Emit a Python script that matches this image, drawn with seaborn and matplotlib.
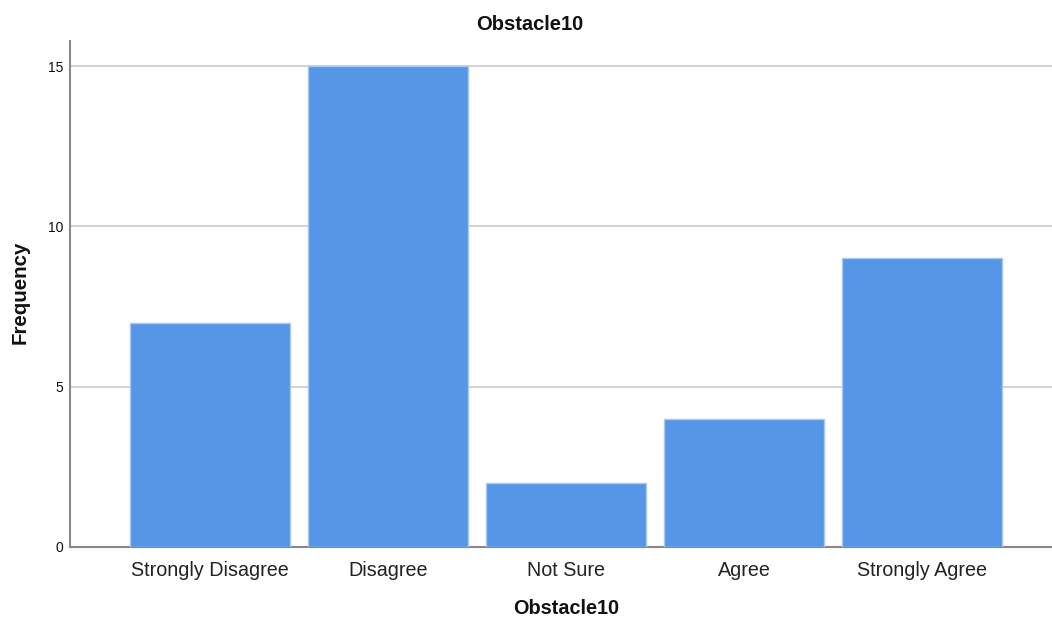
import matplotlib
matplotlib.use("Agg")
import matplotlib.pyplot as plt
import seaborn as sns
import pandas as pd

categories = ["Strongly Disagree", "Disagree", "Not Sure", "Agree", "Strongly Agree"]
frequency = [7, 15, 2, 4, 9]
yticks = [0, 5, 10, 15]

sns.set_style("white")
plt.rcParams['font.family'] = ['Liberation Sans', 'DejaVu Sans']

df = pd.DataFrame({"cat": categories, "freq": frequency})

W, H = 1052, 619
fig = plt.figure(figsize=(W / 100, H / 100), dpi=100)
ax = fig.add_axes([70 / W, (H - 547) / H, (W - 70) / W, (547 - 41) / H])

sns.barplot(data=df, x="cat", y="freq", order=categories, color="#5596E6",
            saturation=1, width=0.9, edgecolor="#A8C8F2", linewidth=1, ax=ax, zorder=3)

ax.set_ylim(0, 15.78)
ax.set_xlim(-0.787, 4.73)
ax.set_yticks(yticks)
ax.set_yticklabels([str(v) for v in yticks], fontsize=10)
ax.tick_params(axis="y", length=0, pad=5)
ax.tick_params(axis="x", length=0, pad=10, labelsize=14.2)
for lbl in ax.get_xticklabels():
    lbl.set_color("#222222")
for lbl in ax.get_yticklabels():
    lbl.set_color("#111111")

ax.yaxis.grid(True, color="#D4D4D4", linewidth=1.5, zorder=0)
ax.set_axisbelow(True)
for s in ["top", "right"]:
    ax.spines[s].set_visible(False)
for s in ["left", "bottom"]:
    ax.spines[s].set_color("#888888")
    ax.spines[s].set_linewidth(1.5)

ax.set_xlabel("Obstacle10", fontsize=14.3, fontweight="bold", labelpad=14, color="#111111")
ax.xaxis.set_label_coords((566 - 70) / (W - 70), -((608 - 547) / (547 - 41)))
ax.xaxis.label.set_va("center")
ax.set_ylabel("Frequency", fontsize=14.8, fontweight="bold", color="#111111")
ax.yaxis.set_label_coords(-(70 - 20) / (W - 70), (547 - 292) / (547 - 41))
ax.yaxis.label.set_va("center")
fig.text(530 / W, 1 - 24 / H, "Obstacle10", ha="center", va="center",
         fontsize=14.5, fontweight="bold", color="#111111")

fig.savefig("out.png", dpi=100, facecolor="white")
